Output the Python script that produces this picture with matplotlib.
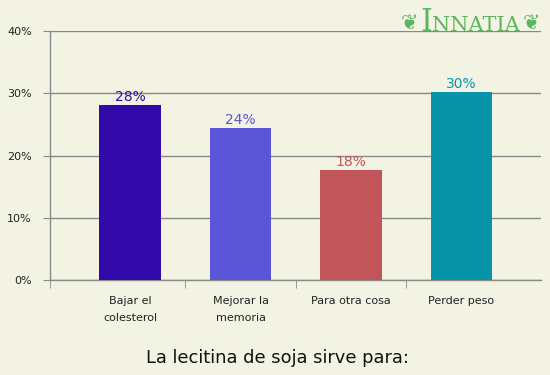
import matplotlib
matplotlib.use("Agg")
import matplotlib.pyplot as plt

# datos
categorias = ["Bajar el\ncolesterol", "Mejorar la\nmemoria", "Para otra cosa", "Perder peso"]
valores = [28.1, 24.4, 17.7, 30.2]
colores = ["#330aaa", "#5b55d8", "#c2555a", "#0894a8"]
titulo = "La lecitina de soja sirve para:"

fondo = "#f3f3e3"
gris = "#888888"
verde = "#4caf50"

fig = plt.figure(figsize=(5.5, 3.75), dpi=100, facecolor=fondo)
ax = fig.add_axes([50/550, 1-280/375, 491/550, 249/375])
ax.set_facecolor(fondo)

x = list(range(len(valores)))
ax.bar(x, valores, width=0.56, color=colores, zorder=3)

for xi, v, c in zip(x, valores, colores):
    ax.text(xi, v + 0.2, "%d%%" % round(v), ha="center", va="bottom",
            color=c, fontsize=10)

ax.set_xlim(-0.725, 3.72)
ax.set_ylim(0, 40)
ax.set_yticks([0, 10, 20, 30, 40])
ax.set_yticklabels(["0%", "10%", "20%", "30%", "40%"], fontsize=8, color="#222222")
ax.yaxis.grid(True, color=gris, linewidth=1, zorder=0)
ax.tick_params(axis="y", length=5, color=gris, pad=8)

ax.set_xticks(x)
ax.set_xticklabels([])
ax.tick_params(axis="x", which="major", length=0)
ax.set_xticks([-0.725, 0.5, 1.5, 2.5], minor=True)
ax.tick_params(axis="x", which="minor", length=6, color=gris)

for xi, etiqueta in zip(x, categorias):
    ax.text(xi, -2.6, etiqueta, ha="center", va="top", fontsize=8,
            linespacing=1.9, color="#222222")

for lado in ["top", "right"]:
    ax.spines[lado].set_visible(False)
for lado in ["left", "bottom"]:
    ax.spines[lado].set_color(gris)
    ax.spines[lado].set_linewidth(1)

fig.text(277/550, 1-358/375, titulo, ha="center", va="center", fontsize=12.9,
         color="#111111")

# logo
fig.text(426/550, 1-31/375, "I", ha="center", va="baseline", fontsize=22,
         family="DejaVu Serif", color=verde, alpha=0.9)
fig.text(476/550, 1-31/375, "NNATIA", ha="center", va="baseline", fontsize=15,
         family="DejaVu Serif", color=verde, alpha=0.9)
fig.text(409/550, 1-23/375, "\u2766", ha="center", va="center", fontsize=15,
         color=verde, alpha=0.9)
fig.text(532/550, 1-23/375, "\u2766", ha="center", va="center", fontsize=15,
         color=verde, alpha=0.9)

fig.savefig("out.png", dpi=100, facecolor=fondo)
